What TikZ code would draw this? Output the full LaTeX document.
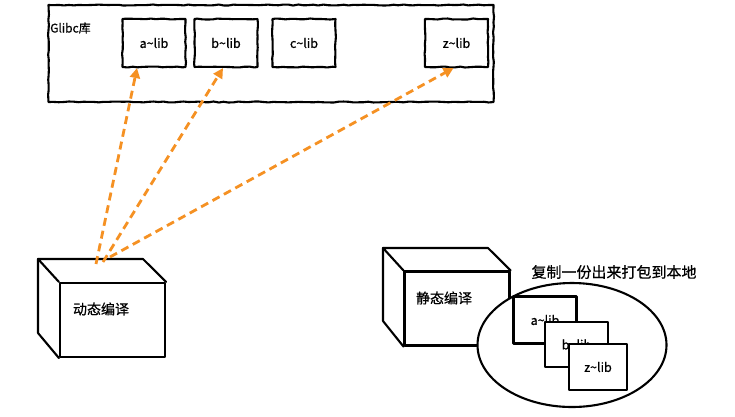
\documentclass[tikz,border=0pt]{standalone}
\usepackage{fontspec}
\setmainfont{Noto Sans CJK SC}[BoldFont={Noto Sans CJK SC},BoldFeatures={FakeBold=0.7}]
\usetikzlibrary{decorations.pathmorphing,arrows.meta,shapes.geometric}
\definecolor{arroworange}{RGB}{245,145,35}
\tikzset{
  sketch/.style={decorate,decoration={random steps,segment length=5pt,amplitude=0.5pt}},
  ink/.style={draw=black,line width=2.1pt,line join=round,line cap=round},
  libbox/.style={ink,sketch,fill=white,minimum width=63pt,minimum height=48pt,font=\bfseries\fontsize{12.5}{14}\selectfont,inner sep=0pt},
  smallbox/.style={ink,fill=white,minimum width=63pt,minimum height=47pt,font=\bfseries\fontsize{12.5}{14}\selectfont,inner sep=0pt},
  face/.style={ink,minimum width=105pt,minimum height=74pt,inner sep=0pt},
  cjk/.style={font=\bfseries\fontsize{14}{16}\selectfont,inner sep=0pt},
  link/.style={draw=arroworange,line width=2.8pt,dash pattern=on 8pt off 5pt,-{Triangle[length=10pt,width=10pt]}},
}
\begin{document}
\begin{tikzpicture}[x=1pt,y=-1pt]
\pgfmathsetseed{7}
\useasboundingbox (0,0) rectangle (735,416);
% Glibc container
\node[ink,sketch,minimum width=445pt,minimum height=97pt,inner sep=0pt] (glibc) at (271,53.5) {};
\node[anchor=west,font=\bfseries\fontsize{12}{14}\selectfont,inner sep=0pt] (glabel) at (50,28) {Glibc库};
\node[libbox] (alib) at (154,43) {a\textasciitilde lib};
\node[libbox] (blib) at (226,43) {b\textasciitilde lib};
\node[libbox] (clib) at (304,43) {c\textasciitilde lib};
\node[libbox] (zlib) at (456.5,43) {z\textasciitilde lib};
% dynamic cube
\node[face] (dyn) at (112.5,320) {};
\node[cjk] (dyntext) at (101,309) {动态编译};
\coordinate (dtl) at (38,259);
\coordinate (dtr) at (143,259);
\coordinate (dbl) at (38,333);
\draw[ink] (dyn.north west) -- (dtl) -- (dtr) -- (dyn.north east);
\draw[ink] (dtl) -- (dbl) -- (dyn.south west);
% static cube
\node[face] (sta) at (457,308.5) {};
\node[cjk] (statext) at (444,298) {静态编译};
\coordinate (stl) at (383,248);
\coordinate (str) at (488,248);
\coordinate (sbl) at (383,321);
\draw[ink] (sta.north west) -- (stl) -- (str) -- (sta.north east);
\draw[ink] (stl) -- (sbl) -- (sta.south west);
% ellipse of copies
\node[ink,fill=white,ellipse,minimum width=189pt,minimum height=124pt,inner sep=0pt] (pack) at (572,345) {};
\node[cjk,font=\bfseries\fontsize{15}{17}\selectfont] (copytext) at (614,272) {复制一份出来打包到本地};
\node[smallbox] (ca) at (545,320) {a\textasciitilde lib};
\node[smallbox,minimum height=45pt] (cb) at (576.5,344.5) {b\textasciitilde lib};
\node[smallbox,minimum width=58pt,minimum height=46pt] (cz) at (598,367) {z\textasciitilde lib};
% arrows
\coordinate (s1) at (96,264);
\coordinate (s2) at (103,262);
\coordinate (s3) at (110,257);
\draw[link] (s1) -- ([xshift=-17pt]alib.south);
\draw[link] (s2) -- ([xshift=-3pt]blib.south);
\draw[link] (s3) -- ([xshift=-3pt]zlib.south);
\end{tikzpicture}
\end{document}
